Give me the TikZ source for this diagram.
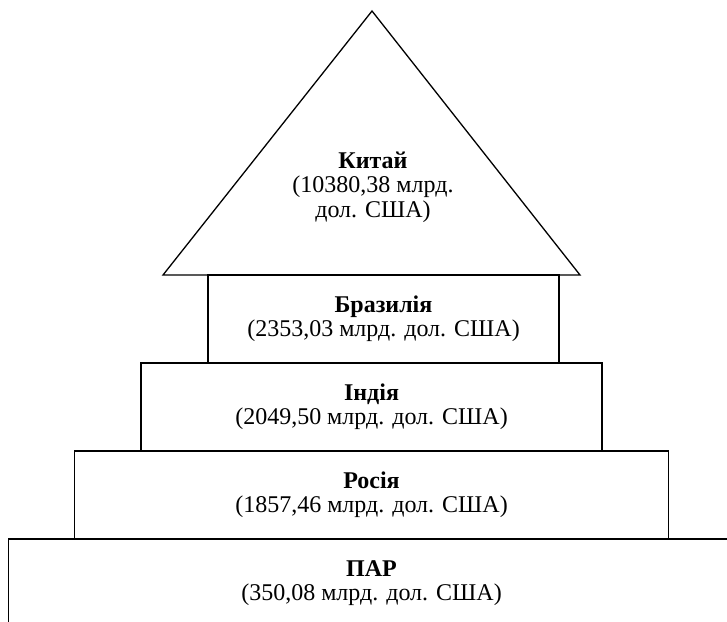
\documentclass[tikz,border=0pt]{standalone}
\usepackage{fontspec}
\setmainfont{Liberation Serif}
\usetikzlibrary{positioning}

\begin{document}
\begin{tikzpicture}[x=0.5pt,y=-0.5pt,line width=0.65pt,
                    every node/.style={font=\fontsize{12}{12.2}\selectfont,align=center}]
  \tikzstyle{tier}=[draw=black,rectangle,minimum height=44pt,outer sep=0pt,inner sep=0pt]

  \clip (0,0) rectangle (727,621);

  % roof
  \coordinate (apex)  at (372,11);
  \coordinate (roofL) at (163,275);
  \coordinate (roofR) at (580,275);
  \draw (roofL) -- (apex) -- (roofR) -- cycle;
  \node (china) at (373,187) {\textbf{Китай}\\(10380,38 млрд.\\дол. США)};

  % storeys
  \node[tier,minimum width=175.5pt] (brazil) at (383.5,319)
        {\textbf{Бразилія}\\(2353,03 млрд. дол. США)};
  \node[tier,minimum width=230.5pt] (india)  [below=0pt of brazil,xshift=-6pt]
        {\textbf{Індія}\\(2049,50 млрд. дол. США)};
  \node[tier,minimum width=297pt]   (russia) [below=0pt of india]
        {\textbf{Росія}\\(1857,46 млрд. дол. США)};
  \node[tier,minimum width=363pt]   (sa)     [below=0pt of russia]
        {\textbf{ПАР}\\(350,08 млрд. дол. США)};
\end{tikzpicture}
\end{document}
